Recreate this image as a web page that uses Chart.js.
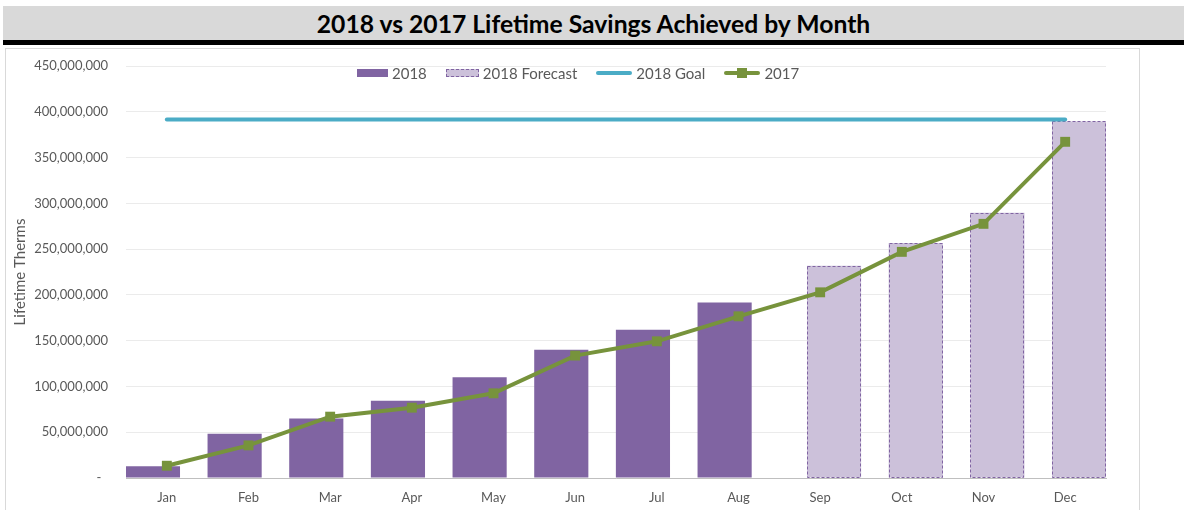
<!DOCTYPE html>
<html>
<head>
<meta charset="utf-8">
<title>2018 vs 2017 Lifetime Savings</title>
<script src="https://cdn.jsdelivr.net/npm/chart.js@4.4.1/dist/chart.umd.min.js"></script>
<style>
  body { margin: 0; width: 1184px; height: 510px; overflow: hidden; background: #fff; font-family: Lato, 'Open Sans', sans-serif; }
  .title { position: absolute; left: 3px; top: 6px; width: 1181px; height: 34px; background: #d9d9d9;
           text-align: center; font: bold 24.7px Lato, sans-serif; line-height: 36px; color: #000; }
  .rule { position: absolute; left: 3px; top: 40px; width: 1181px; height: 5px; background: #000; }
  .frame { position: absolute; left: 5px; top: 48px; width: 1133px; height: 480px; border: 1px solid #d9d9d9; }
  .chart-wrap { position: absolute; left: 0; top: 0; width: 1184px; height: 510px; }
  #legend { position: absolute; left: 357px; top: 64px; display: flex; align-items: center; height: 18px;
            font-size: 15px; color: #595959; }
  #legend .item { display: flex; align-items: center; margin-right: 19px; }
  #legend .sw { position: relative; display: inline-block; margin-right: 4px; box-sizing: border-box; }
  #legend .mk { position: absolute; left: 13px; top: -3px; width: 10px; height: 10px; }
</style>
</head>
<body>
<div class="title">2018 vs 2017 Lifetime Savings Achieved by Month</div>
<div class="rule"></div>
<div class="frame"></div>
<div class="chart-wrap"><canvas id="savingsChart"></canvas></div>
<div id="legend"></div>
<script>
// Monthly lifetime therms (cumulative)
const months = ['Jan', 'Feb', 'Mar', 'Apr', 'May', 'Jun', 'Jul', 'Aug', 'Sep', 'Oct', 'Nov', 'Dec'];
const actual2018 = [12700000, 48400000, 65100000, 84500000, 110000000, 140200000, 162000000, 191600000, null, null, null, null];
const forecast2018 = [null, null, null, null, null, null, null, null, 231700000, 256800000, 289600000, 389400000];
const goal2018 = [391600000, 391600000, 391600000, 391600000, 391600000, 391600000, 391600000, 391600000, 391600000, 391600000, 391600000, 391600000];
const actual2017 = [13400000, 35600000, 67000000, 76800000, 92500000, 133700000, 149300000, 176600000, 202800000, 247000000, 277600000, 367200000];
const yTicks = [0, 50000000, 100000000, 150000000, 200000000, 250000000, 300000000, 350000000, 400000000, 450000000];

const colors = {
    actual: '#8064A2',
    forecast: '#CCC1DA',
    goal: '#4BACC6',
    prior: '#77933C'
};
const textGrey = '#595959';
const FONT = "Lato, 'Open Sans', sans-serif";

// Chart.js bars can't do dashed borders, so stroke the forecast outlines ourselves
const dashedForecast = {
    id: 'dashedForecast',
    afterDatasetDraw(chart, args) {
        if (args.meta.label !== '2018 Forecast') return;
        const values = chart.data.datasets[args.index].data;
        const ctx = chart.ctx;
        ctx.save();
        ctx.strokeStyle = colors.actual;
        ctx.lineWidth = 1;
        ctx.setLineDash([3, 2]);
        args.meta.data.forEach((bar, i) => {
            if (values[i] == null) return;
            const p = bar.getProps(['x', 'y', 'base', 'width'], true);
            const left = Math.round(p.x - p.width / 2) + 0.5;
            const top = Math.round(p.y) + 0.5;
            const w = Math.round(p.width) - 1;
            const h = Math.round(p.base) - Math.round(p.y) - 1;
            ctx.strokeRect(left, top, w, h);
        });
        ctx.restore();
    }
};

const ctx = document.getElementById('savingsChart').getContext('2d');
const chart = new Chart(ctx, {
    type: 'bar',
    data: {
        labels: months,
        datasets: [
            {
                type: 'line',
                label: '2017',
                data: actual2017,
                borderColor: colors.prior,
                backgroundColor: colors.prior,
                borderWidth: 4,
                pointStyle: 'rect',
                pointRadius: 7,
                pointBorderWidth: 0,
                tension: 0,
                order: 0
            },
            {
                type: 'line',
                label: '2018 Goal',
                data: goal2018,
                borderColor: colors.goal,
                borderWidth: 4,
                borderCapStyle: 'round',
                pointRadius: 0,
                order: 1
            },
            {
                label: '2018',
                data: actual2018,
                backgroundColor: colors.actual,
                borderWidth: 0,
                categoryPercentage: 0.68,
                barPercentage: 1.95,
                order: 2
            },
            {
                label: '2018 Forecast',
                data: forecast2018,
                backgroundColor: colors.forecast,
                borderWidth: 0,
                categoryPercentage: 0.68,
                barPercentage: 1.95,
                order: 3
            }
        ]
    },
    options: {
        responsive: true,
        maintainAspectRatio: false,
        animation: false,
        layout: {
            padding: { left: 0, right: 78, top: 66, bottom: 0 }
        },
        plugins: {
            legend: { display: false },
            title: { display: false },
            tooltip: { enabled: false }
        },
        scales: {
            x: {
                offset: true,
                grid: { display: false },
                border: { display: true, color: '#BFBFBF', width: 1 },
                ticks: {
                    color: textGrey,
                    font: { family: FONT, size: 13 },
                    padding: 4
                },
                afterFit: scale => { scale.height = 32; }
            },
            y: {
                min: 0,
                max: 450000000,
                afterBuildTicks: scale => { scale.ticks = yTicks.map(v => ({ value: v })); },
                grid: { color: '#EBEBEB', drawTicks: false },
                border: { display: false },
                ticks: {
                    color: textGrey,
                    font: { family: FONT, size: 13 },
                    padding: 18,
                    callback: v => v === 0 ? '-  ' : v.toLocaleString('en-US')
                },
                title: {
                    display: true,
                    text: 'Lifetime Therms',
                    color: textGrey,
                    font: { family: FONT, size: 15 },
                    padding: { top: 11, bottom: 0 }
                },
                afterFit: scale => { scale.width = 126; }
            }
        }
    },
    plugins: [dashedForecast]
});

// HTML legend, same order as the Excel original
const legendEl = document.getElementById('legend');
const legendItems = [
    { text: '2018', kind: 'box' },
    { text: '2018 Forecast', kind: 'dash' },
    { text: '2018 Goal', kind: 'line', color: colors.goal },
    { text: '2017', kind: 'marker', color: colors.prior }
];
legendItems.forEach(item => {
    const el = document.createElement('span');
    el.className = 'item';
    const sw = document.createElement('span');
    sw.className = 'sw';
    if (item.kind === 'box') {
        sw.style.cssText = `width:31px;height:8px;background:${colors.actual}`;
    } else if (item.kind === 'dash') {
        sw.style.cssText = `width:33px;height:8px;background:${colors.forecast};border:1px dashed ${colors.actual}`;
    } else {
        sw.style.cssText = `width:36px;height:4px;border-radius:2px;background:${item.color}`;
        if (item.kind === 'marker') {
            const mk = document.createElement('span');
            mk.className = 'mk';
            mk.style.background = item.color;
            sw.appendChild(mk);
        }
    }
    el.appendChild(sw);
    el.appendChild(document.createTextNode(item.text));
    legendEl.appendChild(el);
});
</script>
</body>
</html>
